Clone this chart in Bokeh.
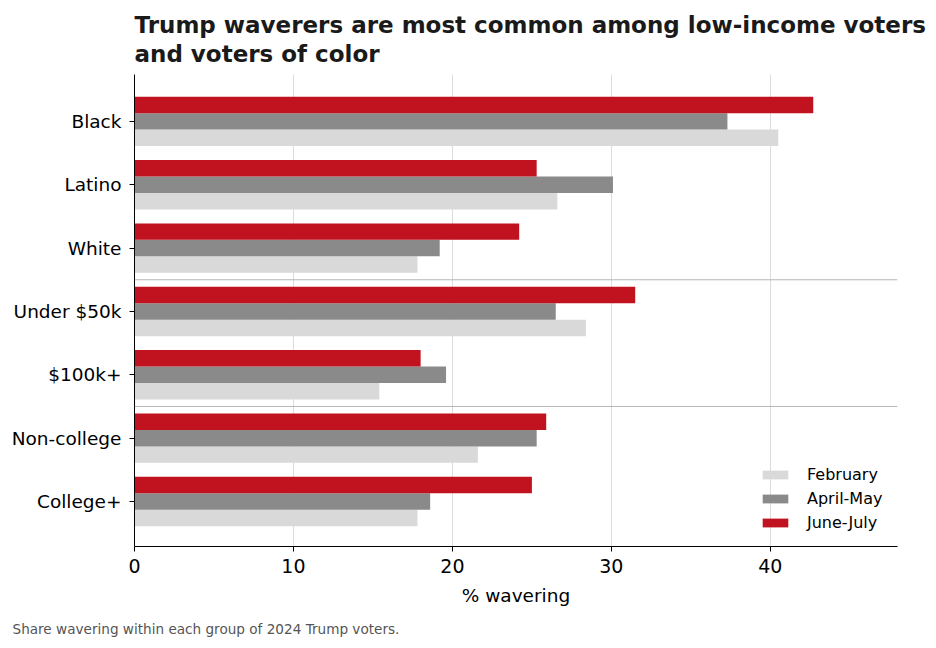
from bokeh.plotting import figure
from bokeh.models import ColumnDataSource, FixedTicker, Span, Title, Legend, LegendItem
from bokeh.transform import dodge
from bokeh.embed import file_html
from bokeh.resources import INLINE

categories = ["Black", "Latino", "White", "Under $50k", "$100k+", "Non-college", "College+"]
february = [40.5, 26.6, 17.8, 28.4, 15.4, 21.6, 17.8]
april_may = [37.3, 30.1, 19.2, 26.5, 19.6, 25.3, 18.6]
june_july = [42.7, 25.3, 24.2, 31.5, 18.0, 25.9, 25.0]
x_ticks = [0, 10, 20, 30, 40]
series_names = ["February", "April-May", "June-July"]
colors = ["#d9d9d9", "#8a8a8a", "#c1121f"]

n = len(categories)
ypos = [n - 1 - i for i in range(n)]
src = ColumnDataSource(dict(y=ypos, feb=february, apr=april_may, jun=june_july))

FONT = "DejaVu Sans"

p = figure(width=928, height=646, output_backend="svg", toolbar_location=None,
           x_range=(0, 48), y_range=(-0.71, 6.74),
           min_border_left=134, min_border_right=31, min_border_top=74, min_border_bottom=100)
p.title.text = "Trump waverers are most common among low-income voters\nand voters of color"
p.title.text_font = FONT
p.title.text_font_size = "23px"
p.title.text_font_style = "bold"
p.title.text_color = "#1a1a1a"
p.title.text_line_height = 1.1
p.title.align = "left"
p.title.standoff = 15

h = 0.26
fields = ["feb", "apr", "jun"]
offsets = [-h, 0.0, h]
rends = []
for f, off, c in zip(fields, offsets, colors):
    r = p.hbar(y=dodge("y", off, range=p.y_range), right=f, left=0, height=h,
               source=src, fill_color=c, line_color=None)
    rends.append(r)

for yv in [3.5, 1.5]:
    p.add_layout(Span(location=yv, dimension="width", line_color="#b5b5b5", line_width=1))

p.outline_line_color = None
p.ygrid.visible = False
p.xgrid.grid_line_color = "#dcdcdc"
p.xgrid.grid_line_width = 1
p.xgrid.ticker = FixedTicker(ticks=x_ticks)

p.xaxis.ticker = FixedTicker(ticks=x_ticks)
p.xaxis.axis_label = "% wavering"
p.xaxis.axis_label_text_font = FONT
p.xaxis.axis_label_text_font_size = "18.5px"
p.xaxis.axis_label_text_font_style = "normal"
p.xaxis.axis_label_text_color = "black"
p.xaxis.axis_label_standoff = 9
p.xaxis.major_label_text_font = FONT
p.xaxis.major_label_text_font_size = "19px"
p.xaxis.major_label_text_color = "black"
p.xaxis.major_label_standoff = 7
p.xaxis.minor_tick_line_color = None
p.xaxis.major_tick_out = 5
p.xaxis.major_tick_in = 0
p.xaxis.axis_line_color = "black"

p.yaxis.ticker = FixedTicker(ticks=ypos)
p.yaxis.major_label_overrides = {yv: c for yv, c in zip(ypos, categories)}
p.yaxis.major_label_text_font = FONT
p.yaxis.major_label_text_font_size = "18.5px"
p.yaxis.major_label_text_color = "black"
p.yaxis.minor_tick_line_color = None
p.yaxis.major_tick_out = 5
p.yaxis.major_tick_in = 0
p.yaxis.major_label_standoff = 8
p.yaxis.axis_line_color = "black"

legend = Legend(items=[LegendItem(label=nm, renderers=[r]) for nm, r in zip(series_names, rends)],
                location=(625, 14), border_line_color=None, background_fill_alpha=0,
                label_text_font=FONT, label_text_font_size="16px", label_text_color="black",
                glyph_width=32, glyph_height=11, label_height=20, spacing=4,
                label_standoff=16, padding=10, margin=0)
p.add_layout(legend)

foot = Title(text="Share wavering within each group of 2024 Trump voters.", align="left",
             text_font=FONT, text_font_size="13.6px", text_font_style="normal",
             text_color="#555555", offset=-122, standoff=20)
p.add_layout(foot, "below")

open("out.html", "w").write(file_html(p, INLINE))
